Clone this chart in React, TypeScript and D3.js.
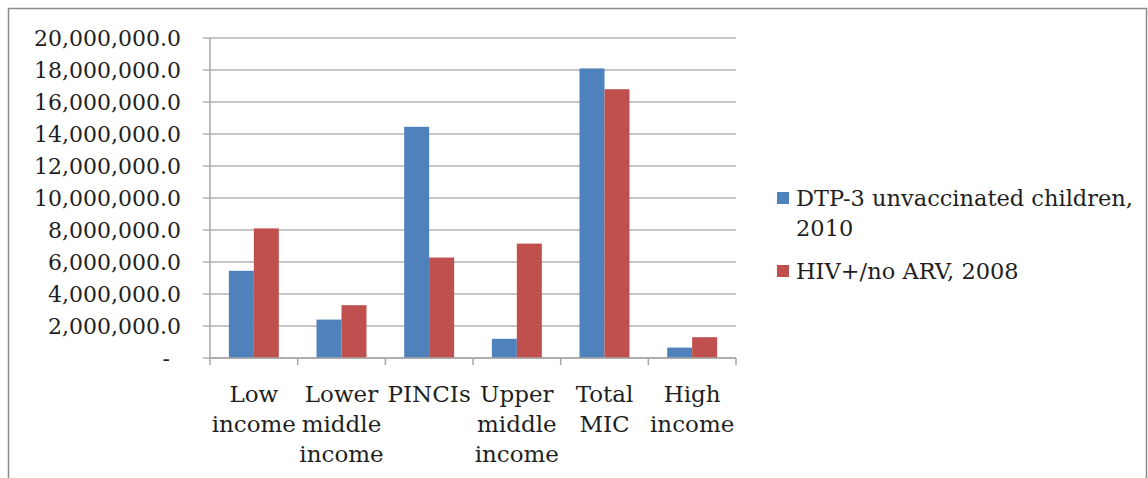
import React from 'react';
import * as d3 from 'd3';

const categories: string[][] = [
  ['Low', 'income'],
  ['Lower', 'middle', 'income'],
  ['PINCIs'],
  ['Upper', 'middle', 'income'],
  ['Total', 'MIC'],
  ['High', 'income'],
];

const dtpUnvaccinated = [5450000, 2400000, 14450000, 1200000, 18100000, 650000];
const hivNoArv = [8100000, 3300000, 6280000, 7150000, 16800000, 1300000];

const seriesNames: string[][] = [['DTP-3 unvaccinated children,', '2010'], ['HIV+/no ARV, 2008']];
const seriesColors = ['#4f81bd', '#c0504d'];

const yTicks = [0, 2000000, 4000000, 6000000, 8000000, 10000000, 12000000, 14000000, 16000000, 18000000, 20000000];

const W = 1148;
const H = 478;
const FONT = '"DejaVu Serif", serif';

const App: React.FC = () => {
  const left = 210;
  const right = 736;
  const top = 38;
  const bottom = 358;

  const x = d3.scaleBand<number>()
    .domain(d3.range(categories.length))
    .range([left, right])
    .paddingInner(0.43)
    .paddingOuter(0.215);

  const xs = d3.scaleBand<number>()
    .domain([0, 1])
    .range([0, x.bandwidth()]);

  const y = d3.scaleLinear().domain([0, 20000000]).range([bottom, top]);
  const fmt = d3.format(',.1f');
  const series = [dtpUnvaccinated, hivNoArv];
  const step = x.step();

  return (
    <svg width={W} height={H} style={{ position: 'absolute', left: 0, top: 0, display: 'block' }}>
      <rect x={0} y={0} width={W} height={H} fill="#fff" />
      <rect x={8.5} y={8.5} width={1138} height={520} fill="#fff" stroke="#8a8a8a" strokeWidth={1.5} />

      {/* gridlines + y ticks */}
      {yTicks.map(t => (
        <g key={t}>
          <line x1={left - 7} x2={right} y1={y(t)} y2={y(t)} stroke="#b3b3b3" strokeWidth={1.5} />
          <text
            x={t === 0 ? 170 : 181}
            y={y(t)}
            dy="0.36em"
            textAnchor="end"
            fontFamily={FONT}
            fontSize={22}
            fill="#1f1f1f"
          >
            {t === 0 ? '-' : fmt(t)}
          </text>
        </g>
      ))}
      <line x1={left} x2={left} y1={top} y2={bottom} stroke="#a6a6a6" strokeWidth={1.5} />

      {/* bars */}
      {series.map((vals, si) =>
        vals.map((v, i) => (
          <rect
            key={`${si}-${i}`}
            x={(x(i) ?? 0) + (xs(si) ?? 0)}
            y={y(v)}
            width={xs.bandwidth()}
            height={bottom - y(v)}
            fill={seriesColors[si]}
          />
        ))
      )}

      {/* x axis */}
      <line x1={left} x2={right} y1={bottom} y2={bottom} stroke="#a6a6a6" strokeWidth={1.5} />
      {d3.range(categories.length + 1).map(i => (
        <line key={i} x1={left + i * step} x2={left + i * step} y1={bottom} y2={bottom + 7} stroke="#a6a6a6" strokeWidth={1.5} />
      ))}
      {categories.map((lines, i) => (
        <text key={i} textAnchor="middle" fontFamily={FONT} fontSize={23} fill="#1f1f1f">
          {lines.map((ln, j) => (
            <tspan key={j} x={(x(i) ?? 0) + x.bandwidth() / 2} y={402 + j * 30}>{ln}</tspan>
          ))}
        </text>
      ))}

      {/* legend */}
      {seriesNames.map((lines, si) => {
        const cy = si === 0 ? 198 : 271;
        return (
          <g key={si}>
            <rect x={777} y={cy - 6} width={12} height={12} fill={seriesColors[si]} />
            <text fontFamily={FONT} fontSize={22.5} fill="#1f1f1f">
              {lines.map((ln, j) => (
                <tspan key={j} x={796} y={cy + 8 + j * 30}>{ln}</tspan>
              ))}
            </text>
          </g>
        );
      })}
    </svg>
  );
};

export default App;
